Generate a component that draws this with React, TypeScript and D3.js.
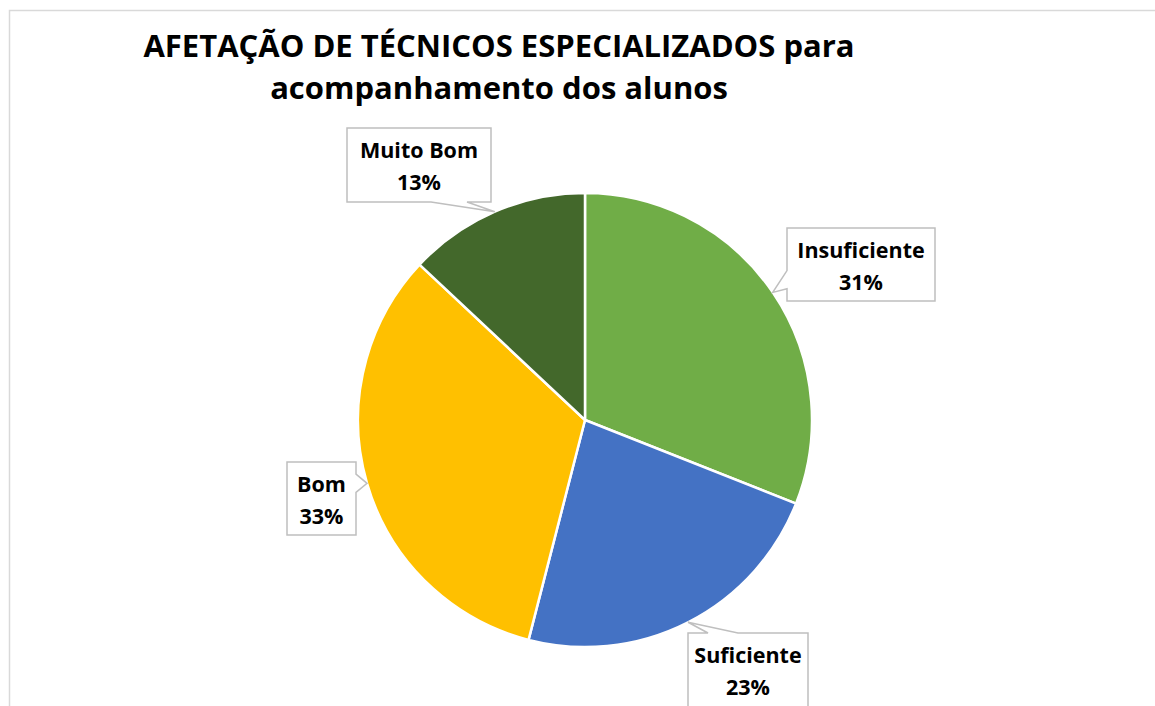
import * as d3 from 'd3';

// Slice data, clockwise from 12 o'clock
const categories = ['Insuficiente', 'Suficiente', 'Bom', 'Muito Bom'];
const shares = [31, 23, 33, 13];
const sliceColors = ['#70AD47', '#4472C4', '#FFC000', '#43682B'];
const titleLines = ['AFETAÇÃO DE TÉCNICOS ESPECIALIZADOS para', 'acompanhamento dos alunos'];

// Callout box placement (layout only)
const calloutBoxes = [
  { x: 787, y: 228, w: 148, h: 73 },
  { x: 688, y: 633, w: 120, h: 74 },
  { x: 287, y: 462, w: 69, h: 73 },
  { x: 347, y: 128, w: 144, h: 74 },
];

const W = 1155;
const H = 706;
const FONT = '"Open Sans", Lato, sans-serif';

function calloutPath(b: { x: number; y: number; w: number; h: number }, tip: [number, number]) {
  const [tx, ty] = tip;
  const x0 = b.x, y0 = b.y, x1 = b.x + b.w, y1 = b.y + b.h;
  const cx = b.x + b.w / 2, cy = b.y + b.h / 2;
  // wedge base sits in the part of the edge nearest the tip
  const span = (len: number, t: number, c: number) => (t > c ? [7 / 12 * len, 10 / 12 * len] : [2 / 12 * len, 5 / 12 * len]);
  if (ty > y1) {
    const [a, c] = span(b.w, tx, cx);
    return `M${x0},${y0}H${x1}V${y1}H${x0 + c}L${tx},${ty}L${x0 + a},${y1}H${x0}Z`;
  }
  if (ty < y0) {
    const [a, c] = span(b.w, tx, cx);
    return `M${x0},${y0}H${x0 + a}L${tx},${ty}L${x0 + c},${y0}H${x1}V${y1}H${x0}Z`;
  }
  if (tx < x0) {
    const [a, c] = span(b.h, ty, cy);
    return `M${x0},${y0}H${x1}V${y1}H${x0}V${y0 + c}L${tx},${ty}L${x0},${y0 + a}Z`;
  }
  const [a, c] = span(b.h, ty, cy);
  return `M${x0},${y0}H${x1}V${y0 + a}L${tx},${ty}L${x1},${y0 + c}V${y1}H${x0}Z`;
}

export default function App() {
  const cx = 585;
  const cy = 420;
  const radius = 227;

  const pie = d3.pie<number>().sort(null).value(d => d).startAngle(0).endAngle(2 * Math.PI);
  const arcs = pie(shares);
  const arc = d3.arc<d3.PieArcDatum<number>>().innerRadius(0).outerRadius(radius);
  const total = d3.sum(shares);
  const fmt = d3.format('.0%');

  return (
    <svg width={W} height={H} style={{ position: 'absolute', left: 0, top: 0, background: '#fff' }} fontFamily={FONT}>
      <rect x={9.5} y={10.5} width={W + 20} height={H + 20} fill="#fff" stroke="#D9D9D9" strokeWidth={1.5} />

      {titleLines.map((t, i) => (
        <text key={i} x={499} y={57 + i * 42} textAnchor="middle" fontSize={31} fontWeight={700} fill="#000">
          {t}
        </text>
      ))}

      <g transform={`translate(${cx},${cy})`}>
        {arcs.map((a, i) => (
          <path key={categories[i]} d={arc(a) ?? ''} fill={sliceColors[i]} stroke="#fff" strokeWidth={2.5} strokeLinejoin="round" />
        ))}
      </g>

      {arcs.map((a, i) => {
        const mid = (a.startAngle + a.endAngle) / 2;
        const tip: [number, number] = [cx + radius * Math.sin(mid), cy - radius * Math.cos(mid)];
        const b = calloutBoxes[i];
        const mx = b.x + b.w / 2;
        const my = b.y + b.h / 2;
        return (
          <g key={categories[i]}>
            <path d={calloutPath(b, tip)} fill="#fff" stroke="#BFBFBF" strokeWidth={1.5} strokeLinejoin="miter" />
            <text x={mx} y={my - 7} textAnchor="middle" fontSize={21.5} fontWeight={700} fill="#000">
              {categories[i]}
            </text>
            <text x={mx} y={my + 25} textAnchor="middle" fontSize={21.5} fontWeight={700} fill="#000">
              {fmt(shares[i] / total)}
            </text>
          </g>
        );
      })}
    </svg>
  );
}
